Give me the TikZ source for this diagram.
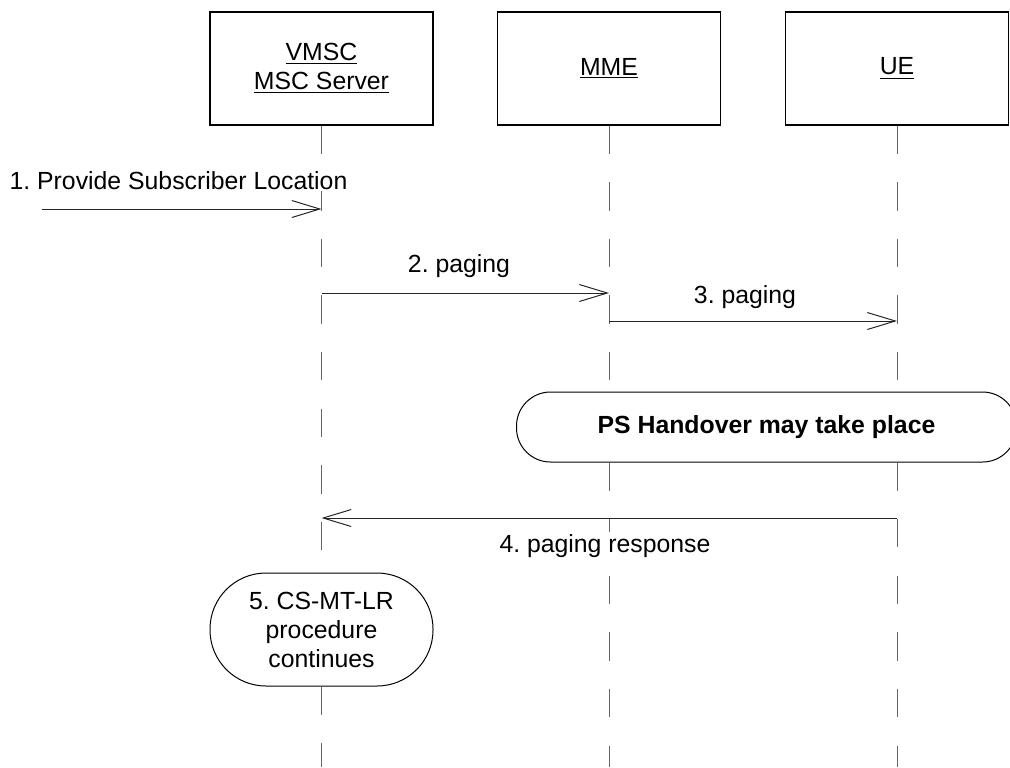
\documentclass[tikz,border=0pt]{standalone}
\usepackage{fontspec}
\setmainfont{Liberation Sans}
\usetikzlibrary{arrows.meta}

\begin{document}
\frenchspacing
\begin{tikzpicture}[x=0.5pt,y=-0.5pt,
    every node/.style={font=\fontsize{12.4pt}{14.5pt}\selectfont,inner sep=1pt},
    entity/.style={draw,line width=0.6pt,minimum width=111.5pt,minimum height=56.5pt,align=center},
    life/.style={draw=black!60,line width=0.5pt,dash pattern=on 14.15pt off 14.15pt},
    msg/.style={draw=black!85,line width=0.5pt,-{Straight Barb[length=14pt,width=8.5pt]}},
    lbl/.style={fill=white,anchor=base},
    proc/.style={draw,line width=0.5pt,align=center,inner sep=0pt}]

    \useasboundingbox (0,0) rectangle (1010,767);

      \node[entity] (v) at (321.5,68.5) {\underline{VMSC}\\\underline{MSC Server}};
      \node[entity] (m) at (609,68.5) {\underline{MME}};
      \node[entity] (u) at (897,68.5) {\underline{UE}};

    \node[proc,rounded corners=17pt,minimum width=250pt,minimum height=35pt] (ps) at (766.5,427) {\textbf{PS Handover may take place}};
    \node[proc,rounded corners=28pt,minimum width=111.5pt,minimum height=56.5pt] (p5) at (321.5,629.5) {5. CS-MT-LR\\procedure\\continues};

    % lifelines, cut by the two procedure boxes
    \coordinate (vend) at (321.5,767);
    \coordinate (mend) at (609,767);
    \coordinate (uend) at (897,767);
      \draw[life] (v) to (p5);
      \draw[life] (p5) to (vend);
      \draw[life] (m.south) to (m.south |- ps.north);
      \draw[life] (m.south |- ps.south) to (mend);
      \draw[life] (u.south) to (u.south |- ps.north);
      \draw[life] (u.south |- ps.south) to (uend);

    \coordinate (s1) at (42,209);
    \coordinate (v1) at (321.5,209);
    \coordinate (v2) at (321.5,293);
    \coordinate (m2) at (609,293);
    \coordinate (m3) at (609,321);
    \coordinate (u3) at (897,321);
    \coordinate (u4) at (897,518);
    \coordinate (v4) at (321.5,518);

    \node[lbl] (l1) at (178.5,189) {1. Provide Subscriber Location};
    \node[lbl] (l2) at (459,272) {2. paging};
    \node[lbl] (l3) at (745,303) {3. paging};
    \node[lbl] (l4) at (605,552) {4. paging response};

     \draw[msg] (s1) to (v1);
     \draw[msg] (v2) to (m2);
     \draw[msg] (m3) to (u3);
     \draw[msg] (u4) to (v4);

\end{tikzpicture}
\end{document}
